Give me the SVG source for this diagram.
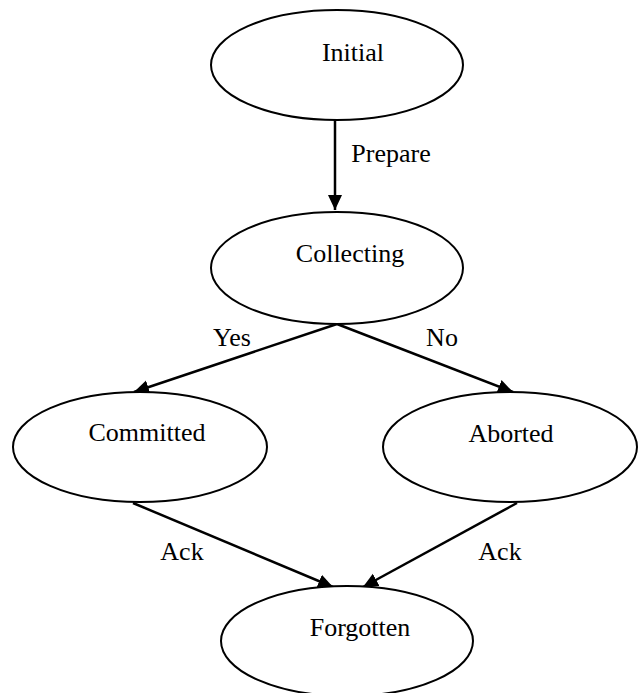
<svg xmlns="http://www.w3.org/2000/svg" width="644" height="693" viewBox="0 0 644 693">
<style>
.node ellipse{fill:#fff;stroke:#000;stroke-width:2}
text{font-family:"Liberation Serif","Times New Roman",serif;font-size:26px;fill:#000;text-anchor:middle}
.edge{stroke:#000;stroke-width:2.5;fill:none;marker-end:url(#ah)}
</style>
<defs>
<marker id="ah" markerUnits="userSpaceOnUse" markerWidth="16" markerHeight="16" viewBox="0 0 16 16" refX="15" refY="8" orient="auto">
<path d="M0,1 L15,8 L0,15 Z" fill="#000"/>
</marker>
</defs>
<g id="connectors">
<line class="edge" x1="335" y1="120" x2="335" y2="210"/>
<line class="edge" x1="337" y1="324" x2="134" y2="392"/>
<line class="edge" x1="337" y1="324" x2="513" y2="392"/>
<line class="edge" x1="133" y1="503" x2="333" y2="587"/>
<line class="edge" x1="517" y1="503" x2="363" y2="587"/>
<text x="391" y="162">Prepare</text>
<text x="232" y="346">Yes</text>
<text x="442" y="346">No</text>
<text x="182" y="560">Ack</text>
<text x="500" y="560">Ack</text>
</g>
<g id="initial" class="node"><ellipse cx="337" cy="65" rx="126" ry="55"/><text x="353" y="61">Initial</text></g>
<g id="collecting" class="node"><ellipse cx="337" cy="268" rx="126" ry="56"/><text x="350" y="262">Collecting</text></g>
<g id="committed" class="node"><ellipse cx="140" cy="447" rx="127" ry="55"/><text x="147" y="441">Committed</text></g>
<g id="aborted" class="node"><ellipse cx="510" cy="447" rx="127" ry="55"/><text x="511" y="442">Aborted</text></g>
<g id="forgotten" class="node"><ellipse cx="347" cy="641" rx="126" ry="55"/><text x="360" y="636">Forgotten</text></g>
</svg>
